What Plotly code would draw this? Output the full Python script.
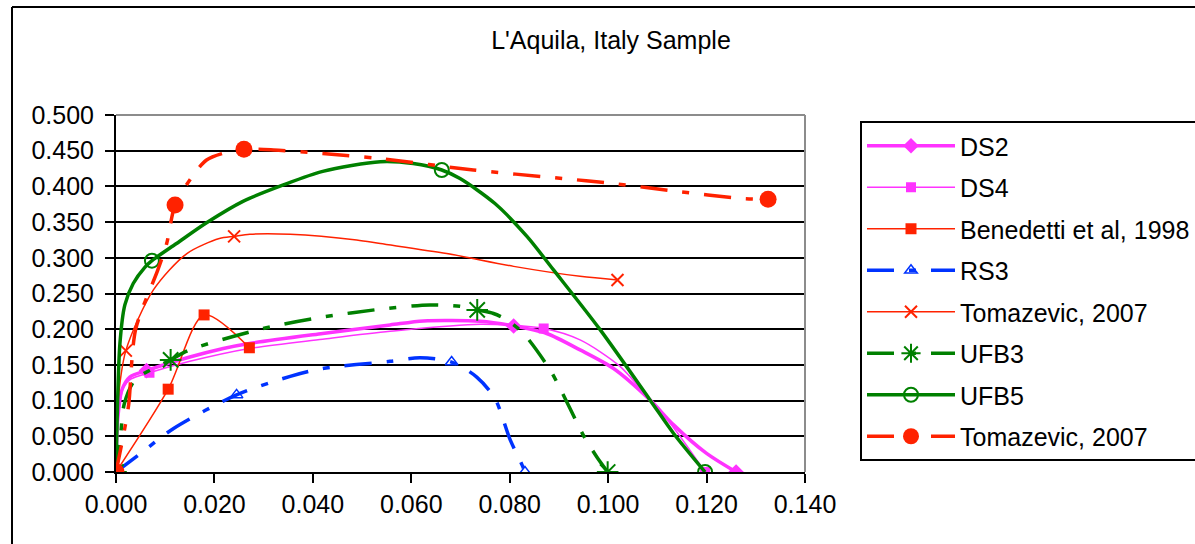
import plotly.graph_objects as go

# ---------------- data ----------------
series_names = ["DS2", "DS4", "Benedetti et al, 1998", "RS3", "Tomazevic, 2007",
                "UFB3", "UFB5", "Tomazevic, 2007"]

ds2_x = [0, 0.0003, 0.0012, 0.0028, 0.0062, 0.015, 0.0218, 0.0271, 0.042, 0.0557, 0.0625,
         0.074, 0.0808, 0.0875, 0.0943, 0.1011, 0.1085, 0.1133, 0.120, 0.126]
ds2_y = [0, 0.07, 0.115, 0.133, 0.142, 0.161, 0.173, 0.180, 0.194, 0.206, 0.2116,
         0.211, 0.2045, 0.194, 0.171, 0.145, 0.101, 0.066, 0.026, 0]
ds2_mx = [0, 0.0062, 0.0808, 0.126]
ds2_my = [0, 0.142, 0.2045, 0]

ds4_x = [0, 0.0005, 0.0015, 0.0030, 0.0068, 0.015, 0.0271, 0.042, 0.0557, 0.074, 0.0869,
         0.0943, 0.1024, 0.108, 0.1133, 0.1197]
ds4_y = [0, 0.08, 0.118, 0.130, 0.139, 0.155, 0.173, 0.186, 0.197, 0.207, 0.201,
         0.185, 0.148, 0.105, 0.062, 0]
ds4_mx = [0, 0.0068, 0.0869, 0.1197]
ds4_my = [0, 0.139, 0.201, 0]

ben_x = [0, 0.0106, 0.0179, 0.0271]
ben_y = [0, 0.116, 0.220, 0.174]

rs3_x = [0, 0.005, 0.0117, 0.0245, 0.0354, 0.042, 0.0557, 0.0618, 0.0682, 0.0733, 0.077,
         0.0801, 0.0825, 0.0831]
rs3_y = [0, 0.026, 0.061, 0.108, 0.134, 0.145, 0.155, 0.160, 0.154, 0.133, 0.103,
         0.045, 0.01, 0]
rs3_mx = [0, 0.0245, 0.0682, 0.0831]
rs3_my = [0, 0.108, 0.154, 0]

tom1_x = [0, 0.0003, 0.002, 0.0076, 0.0144, 0.021, 0.024, 0.0272, 0.0354, 0.0489, 0.0537,
          0.0672, 0.0808, 0.0943, 0.1019]
tom1_y = [0, 0.09, 0.170, 0.255, 0.306, 0.327, 0.330, 0.333, 0.333, 0.325, 0.320,
          0.306, 0.288, 0.274, 0.269]
tom1_mx = [0, 0.002, 0.024, 0.1019]
tom1_my = [0, 0.170, 0.330, 0.269]

ufb3_x = [0, 0.0008, 0.0017, 0.0039, 0.0111, 0.015, 0.0299, 0.042, 0.0537, 0.0638, 0.0699,
          0.0734, 0.0767, 0.0794, 0.0828, 0.0882, 0.0906, 0.095, 0.0977, 0.0999]
ufb3_y = [0, 0.04, 0.096, 0.129, 0.157, 0.171, 0.201, 0.217, 0.228, 0.234, 0.232,
          0.227, 0.222, 0.213, 0.194, 0.143, 0.112, 0.051, 0.021, 0]
ufb3_mx = [0, 0.0111, 0.0734, 0.0999]
ufb3_my = [0, 0.157, 0.227, 0]

ufb5_x = [0, 0.0008, 0.0018, 0.0035, 0.0059, 0.0073, 0.0123, 0.0184, 0.0258, 0.034, 0.042,
          0.0537, 0.0604, 0.0662, 0.0699, 0.077, 0.0835, 0.0889, 0.0984, 0.1085, 0.1133, 0.1197]
ufb5_y = [0, 0.180, 0.234, 0.264, 0.287, 0.296, 0.320, 0.349, 0.379, 0.402, 0.421,
          0.4346, 0.432, 0.423, 0.411, 0.376, 0.330, 0.283, 0.199, 0.101, 0.054, 0]
ufb5_mx = [0, 0.0073, 0.0662, 0.1197]
ufb5_my = [0, 0.296, 0.423, 0]

tom2_x = [0, 0.0018, 0.0026, 0.004, 0.0085, 0.0103, 0.012, 0.015, 0.0184, 0.0226, 0.026,
          0.032, 0.042, 0.0537, 0.0726, 0.0909, 0.101, 0.114, 0.1275, 0.1325]
tom2_y = [0, 0.062, 0.096, 0.20, 0.283, 0.32, 0.374, 0.409, 0.437, 0.448, 0.452,
          0.451, 0.446, 0.439, 0.423, 0.411, 0.404, 0.393, 0.383, 0.382]
tom2_mx = [0, 0.012, 0.026, 0.1325]
tom2_my = [0, 0.374, 0.452, 0.382]

x_ticks = [0.0, 0.02, 0.04, 0.06, 0.08, 0.10, 0.12, 0.14]
y_ticks = [0.0, 0.05, 0.10, 0.15, 0.20, 0.25, 0.30, 0.35, 0.40, 0.45, 0.50]

# ---------------- styles ----------------
MAG = "#FF33FF"
RED = "#FF2200"
BLUE = "#0033FF"
GREEN = "#008000"
DASH = "27px,15px,7px,15px"
FONT = "Liberation Sans, Arial, sans-serif"
FS = 25

specs = [
    (series_names[0], ds2_x, ds2_y, ds2_mx, ds2_my, dict(color=MAG, width=3.5),
     dict(symbol="diamond", size=12, color=MAG)),
    (series_names[1], ds4_x, ds4_y, ds4_mx, ds4_my, dict(color=MAG, width=1.5),
     dict(symbol="square", size=10, color=MAG)),
    (series_names[2], ben_x, ben_y, ben_x, ben_y, dict(color=RED, width=1.5),
     dict(symbol="square", size=11, color=RED)),
    (series_names[3], rs3_x, rs3_y, rs3_mx, rs3_my, dict(color=BLUE, width=3.5, dash=DASH),
     dict(symbol="triangle-up-open", size=11, color=BLUE, line=dict(width=1.5, color=BLUE))),
    (series_names[4], tom1_x, tom1_y, tom1_mx, tom1_my, dict(color=RED, width=1.5),
     dict(symbol="x-thin-open", size=12, color=RED, line=dict(width=2, color=RED))),
    (series_names[5], ufb3_x, ufb3_y, ufb3_mx, ufb3_my, dict(color=GREEN, width=3.5, dash=DASH),
     dict(symbol="asterisk-open", size=18, color=GREEN, line=dict(width=2, color=GREEN))),
    (series_names[6], ufb5_x, ufb5_y, ufb5_mx, ufb5_my, dict(color=GREEN, width=3.5),
     dict(symbol="circle-open", size=14, color=GREEN, line=dict(width=2, color=GREEN))),
    (series_names[7], tom2_x, tom2_y, tom2_mx, tom2_my, dict(color=RED, width=3.5, dash=DASH),
     dict(symbol="circle", size=17, color=RED)),
]

fig = go.Figure()
for i, (name, cx, cy, mx, my, line, marker) in enumerate(specs):
    grp = "g%d" % i
    fig.add_trace(go.Scatter(x=cx, y=cy, mode="lines", line=dict(shape="spline", smoothing=0.8, **line),
                             showlegend=False, legendgroup=grp, hoverinfo="skip"))
    gx, gy = [], []
    for a, b in zip(mx, my):
        gx += [a, None]
        gy += [b, None]
    fig.add_trace(go.Scatter(x=gx[:-1], y=gy[:-1], mode="lines+markers", name=name,
                             line=line, marker=marker, connectgaps=False,
                             legendgroup=grp, showlegend=True))

# ---------------- layout ----------------
W, H = 1195, 544
L, R, T, B = 116, 390, 115, 72
pw, ph = W - L - R, H - T - B


def px(x):
    return (x - L) / pw


def py(y):
    return (H - B - y) / ph


shapes = [
    # outer chart frame (left and top edges visible)
    dict(type="line", xref="paper", yref="paper", x0=px(12), x1=px(W + 5), y0=py(7), y1=py(7),
         line=dict(color="black", width=2)),
    dict(type="line", xref="paper", yref="paper", x0=px(12), x1=px(12), y0=py(7), y1=py(H + 5),
         line=dict(color="black", width=2)),
    # plot-area border (grey top and right)
    dict(type="line", xref="paper", yref="paper", x0=0, x1=1, y0=1, y1=1,
         line=dict(color="#8C8C8C", width=2), layer="above"),
    dict(type="line", xref="paper", yref="paper", x0=1, x1=1, y0=0, y1=1,
         line=dict(color="#8C8C8C", width=2), layer="above"),
]

fig.update_layout(
    width=W, height=H,
    margin=dict(l=L, r=R, t=T, b=B, pad=0, autoexpand=False),
    paper_bgcolor="white", plot_bgcolor="white",
    font=dict(family=FONT, size=FS, color="black"),
    title=dict(text="L'Aquila, Italy Sample", xref="container", yref="container",
               x=611 / W, y=1 - 40 / H, xanchor="center", yanchor="middle",
               font=dict(family=FONT, size=FS, color="black")),
    xaxis=dict(range=[0, 0.14], tickvals=x_ticks, tickformat=".3f", showgrid=False,
               showline=True, linecolor="black", linewidth=2, ticks="outside",
               ticklen=9, tickwidth=2, tickcolor="black", zeroline=False,
               tickfont=dict(family=FONT, size=FS)),
    yaxis=dict(range=[0, 0.5], tickvals=y_ticks, tickformat=".3f", showgrid=True,
               gridcolor="black", gridwidth=2, showline=True, linecolor="black", linewidth=2,
               ticks="outside", ticklen=9, tickwidth=2, tickcolor="black", zeroline=False,
               ticklabelstandoff=6, tickfont=dict(family=FONT, size=FS)),
    legend=dict(x=px(860), y=py(121), xanchor="left", yanchor="top",
                bgcolor="white", bordercolor="black", borderwidth=2,
                font=dict(family=FONT, size=FS), traceorder="grouped",
                tracegroupgap=6, itemwidth=88),
    shapes=shapes,
    showlegend=True,
)

fig.write_html("out.html", config={"displayModeBar": False},
               post_script="document.body.style.margin='0';")
